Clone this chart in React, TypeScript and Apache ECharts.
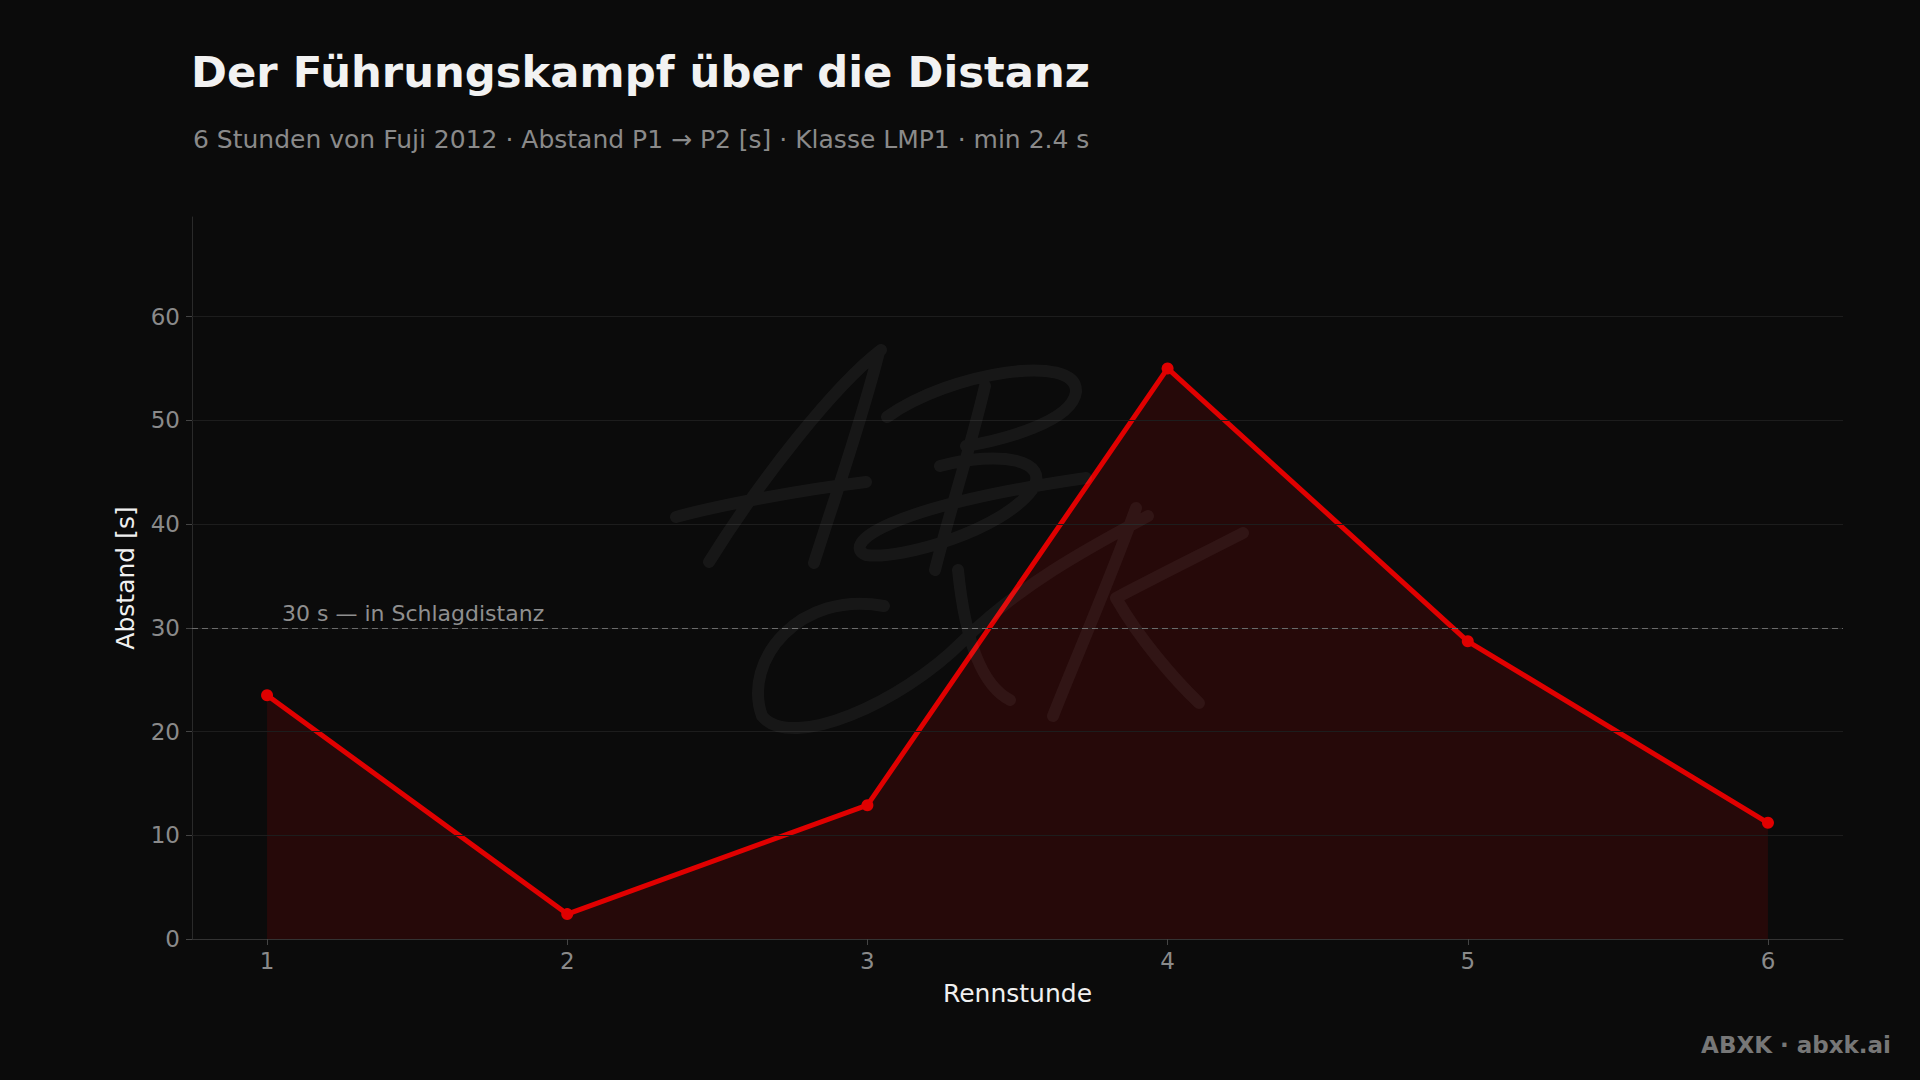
import React, { useEffect, useRef } from "react";
import * as echarts from "echarts";

const hours = [1, 2, 3, 4, 5, 6];
const gapSeconds = [23.5, 2.4, 12.9, 55.0, 28.7, 11.2];
const yTicks = [0, 10, 20, 30, 40, 50, 60];
const threshold = 30;
const thresholdLabel = "30 s — in Schlagdistanz";

const titleText = "Der Führungskampf über die Distanz";
const subtitleText = "6 Stunden von Fuji 2012 · Abstand P1 → P2 [s] · Klasse LMP1 · min 2.4 s";
const footerText = "ABXK · abxk.ai";

const FONT = "'DejaVu Sans', sans-serif";

const markPath =
  // A
  "M709 562 C760 480 835 385 881 350 " +
  "M879 352 C862 420 834 500 814 563 " +
  "M676 517 C720 505 800 490 866 482 " +
  // B
  "M985 386 C970 450 950 510 935 570 " +
  "M887 417 C950 372 1078 352 1076 392 C1072 422 1002 440 966 446 " +
  "M940 466 C1000 450 1052 460 1032 490 C1002 530 902 560 866 555 C842 545 880 508 1086 478 " +
  // X
  "M884 606 C800 590 742 660 762 716 C792 752 902 702 962 642 C1022 582 1100 542 1148 516 " +
  "M958 570 C963 620 975 682 1010 700 " +
  // K
  "M1136 508 C1110 580 1075 660 1053 716 " +
  "M1243 533 C1200 555 1150 580 1116 598 C1140 640 1175 680 1199 703";

let registered = false;

export default function App() {
  const ref = useRef<HTMLDivElement>(null);

  useEffect(() => {
    document.body.style.margin = "0";
    document.body.style.background = "#0b0b0b";
    if (!registered) {
      echarts.graphic.registerShape("abxkMark", echarts.graphic.extendPath(markPath, {}));
      registered = true;
    }
    const chart = echarts.init(ref.current!, undefined, { renderer: "svg" });

    const seriesData = hours.map((h, i) => [h, gapSeconds[i]]);
    const gridLines = yTicks.filter((v) => v > 0).map((v) => ({
      yAxis: v,
      lineStyle: { color: "#1d1d1d", type: "solid", width: 1 },
      label: { show: false },
    }));

    chart.setOption({
      animation: false,
      backgroundColor: "#0b0b0b",
      textStyle: { fontFamily: FONT },
      title: [
        {
          text: titleText,
          left: 186,
          top: 45,
          textStyle: { color: "#f2f2f2", fontSize: 43.3, fontWeight: "bold", fontFamily: FONT },
        },
        {
          text: subtitleText,
          left: 188,
          top: 122,
          textStyle: { color: "#8a8a8a", fontSize: 25, fontWeight: "normal", fontFamily: FONT },
        },
      ],
      grid: { left: 192, right: 77, top: 217, bottom: 141, containLabel: false },
      xAxis: {
        type: "value",
        min: 0.75,
        max: 6.25,
        name: "Rennstunde",
        nameLocation: "middle",
        nameGap: 42,
        nameTextStyle: { color: "#f0f0f0", fontSize: 25, fontFamily: FONT },
        axisLine: { show: true, lineStyle: { color: "#333333", width: 1 } },
        axisTick: { show: true, length: 6, customValues: hours, lineStyle: { color: "#444444" } },
        axisLabel: {
          color: "#8a8a8a",
          fontSize: 23,
          margin: 10,
          fontFamily: FONT,
          customValues: hours,
        },
        splitLine: { show: false },
      },
      yAxis: {
        type: "value",
        min: 0,
        max: 69.6,
        name: "Abstand [s]",
        nameLocation: "middle",
        nameGap: 54,
        nameRotate: 90,
        nameTextStyle: { color: "#f0f0f0", fontSize: 25, fontFamily: FONT },
        axisLine: { show: true, lineStyle: { color: "#2a2a2a", width: 1 } },
        axisTick: { show: true, length: 6, customValues: yTicks, lineStyle: { color: "#444444" } },
        axisLabel: {
          color: "#8a8a8a",
          fontSize: 23,
          margin: 12,
          fontFamily: FONT,
          customValues: yTicks,
        },
        splitLine: { show: false },
      },
      series: [
        {
          type: "line",
          data: seriesData,
          z: 3,
          symbol: "circle",
          symbolSize: 12,
          showSymbol: true,
          itemStyle: { color: "#e00000" },
          lineStyle: { color: "#e00000", width: 5 },
          areaStyle: { color: "rgba(224,0,0,0.13)", opacity: 1 },
          markLine: {
            silent: true,
            symbol: ["none", "none"],
            animation: false,
            data: [
              ...gridLines,
              {
                yAxis: threshold,
                lineStyle: { color: "#6a6a6a", type: [6, 4], width: 1.2 },
                label: {
                  show: true,
                  position: "insideStartTop",
                  formatter: thresholdLabel,
                  color: "#8f8f8f",
                  fontSize: 22,
                  fontFamily: FONT,
                  distance: 3,
                  padding: [0, 0, 0, 87],
                },
              },
            ],
          },
        },
      ],
      graphic: [
        {
          type: "abxkMark",
          x: 0,
          y: 0,
          silent: true,
          z: 10,
          style: {
            fill: "none",
            stroke: "rgba(255,255,255,0.05)",
            lineWidth: 12,
            lineCap: "round",
            lineJoin: "round",
          },
        },
        {
          type: "text",
          right: 29,
          top: 1033,
          silent: true,
          style: {
            text: footerText,
            fill: "#777777",
            font: `bold 23px ${FONT}`,
          },
        },
      ],
    });

    return () => chart.dispose();
  }, []);

  return <div ref={ref} style={{ width: 1920, height: 1080 }} />;
}
